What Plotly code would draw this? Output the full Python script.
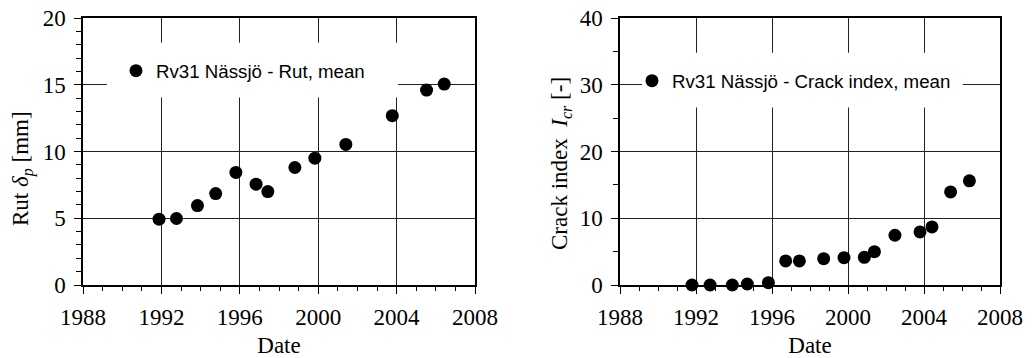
import plotly.graph_objects as go

# Rut data (decimal years, mm)
rut_year = [1991.88, 1992.77, 1993.84, 1994.77, 1995.80, 1996.83, 1997.43,
            1998.81, 1999.83, 2001.41, 2003.78, 2005.53, 2006.43]
rut_mm = [4.93, 4.98, 5.95, 6.85, 8.43, 7.55, 7.0, 8.8, 9.5, 10.53, 12.68, 14.6, 15.05]

# Crack index data
crack_year = [1991.79, 1992.74, 1993.91, 1994.70, 1995.81, 1996.72, 1997.44,
              1998.72, 1999.79, 2000.86, 2001.39, 2002.47, 2003.79, 2004.42,
              2005.40, 2006.39]
crack_idx = [0.0, 0.0, 0.0, 0.15, 0.35, 3.6, 3.6, 3.95, 4.1, 4.15, 5.0, 7.45,
             7.95, 8.7, 13.95, 15.6]

rut_label = "Rv31 Nässjö - Rut, mean"
crack_label = "Rv31 Nässjö - Crack index, mean"
rut_title = "Rut <i>δ<sub>p</sub></i> [mm]"
crack_title = "Crack index  <i>I<sub>cr</sub></i> [-]"

W, H = 1032, 358
SERIF = "Liberation Serif, Times New Roman, serif"
SANS = "Liberation Sans, Arial, sans-serif"

fig = go.Figure()
fig.add_trace(go.Scatter(x=rut_year, y=rut_mm, mode="markers", name=rut_label,
                         marker=dict(size=13, color="black"), cliponaxis=False,
                         xaxis="x", yaxis="y", legend="legend"))
fig.add_trace(go.Scatter(x=crack_year, y=crack_idx, mode="markers", name=crack_label,
                         marker=dict(size=13, color="black"), cliponaxis=False,
                         xaxis="x2", yaxis="y2", legend="legend2"))

def xaxis(domain, anchor):
    return dict(domain=domain, anchor=anchor, range=[1988, 2008], tick0=1988, dtick=4,
                showgrid=True, gridcolor="#222", gridwidth=1,
                showline=True, linecolor="black", linewidth=1.5, mirror=True,
                ticks="outside", ticklen=7, tickcolor="black", tickwidth=1,
                minor=dict(dtick=1, ticks="outside", ticklen=4, tickcolor="black", showgrid=False),
                tickfont=dict(family=SERIF, size=23, color="black"),
                title=dict(text="Date", font=dict(family=SERIF, size=23, color="black"), standoff=10),
                zeroline=False, automargin=False, ticklabelstandoff=4)

def yaxis(domain, anchor, rng, dt, mdt):
    return dict(domain=domain, anchor=anchor, range=rng, dtick=dt,
                showgrid=True, gridcolor="#222", gridwidth=1,
                showline=True, linecolor="black", linewidth=1.5, mirror=True,
                ticks="outside", ticklen=7, tickcolor="black", tickwidth=1,
                minor=dict(dtick=mdt, ticks="outside", ticklen=5, tickcolor="black", showgrid=False),
                tickfont=dict(family=SERIF, size=23, color="black"),
                zeroline=False, automargin=False, ticklabelstandoff=4)

ydom = [1 - 285 / H, 1 - 18 / H]

# white legend backgrounds masking the grid (between gridlines and markers)
legend_boxes = [("x", "y", 1989.22, 2004.07, 14.05, 18.15),
                ("x2", "y2", 1989.16, 2006.05, 26.6, 34.8)]
shapes = [dict(type="rect", xref=xr, yref=yr, layer="between",
               x0=a, x1=b, y0=c, y1=d, fillcolor="white", line=dict(width=0))
          for xr, yr, a, b, c, d in legend_boxes]

# y-axis titles as rotated annotations (placed slightly below axis centre as in original)
annotations = [
    dict(text=rut_title, textangle=-90, xref="paper", yref="paper",
         x=22 / W, y=1 - 169 / H, xanchor="center", yanchor="middle", showarrow=False,
         font=dict(family=SERIF, size=23, color="black")),
    dict(text=crack_title, textangle=-90, xref="paper", yref="paper",
         x=561 / W, y=1 - 164 / H, xanchor="center", yanchor="middle", showarrow=False,
         font=dict(family=SERIF, size=23, color="black")),
]

fig.update_layout(
    width=W, height=H,
    margin=dict(l=0, r=0, t=0, b=0),
    paper_bgcolor="white", plot_bgcolor="white",
    xaxis=xaxis([83 / W, 475 / W], "y"),
    yaxis=yaxis(ydom, "x", [0, 20], 5, 1),
    xaxis2=xaxis([620 / W, 1000 / W], "y2"),
    yaxis2=yaxis(ydom, "x2", [0, 40], 10, 5),
    legend=dict(x=116 / W, y=1 - 71 / H, xanchor="left", yanchor="middle",
                bgcolor="rgba(0,0,0,0)", borderwidth=0,
                font=dict(family=SANS, size=18.7, color="black")),
    legend2=dict(x=632 / W, y=1 - 81 / H, xanchor="left", yanchor="middle",
                 bgcolor="rgba(0,0,0,0)", borderwidth=0,
                 font=dict(family=SANS, size=18.7, color="black")),
    shapes=shapes,
    annotations=annotations,
    showlegend=True,
)

fig.write_html("out.html", config={"displayModeBar": False},
               post_script="document.body.style.margin='0';document.body.style.overflow='hidden';")
